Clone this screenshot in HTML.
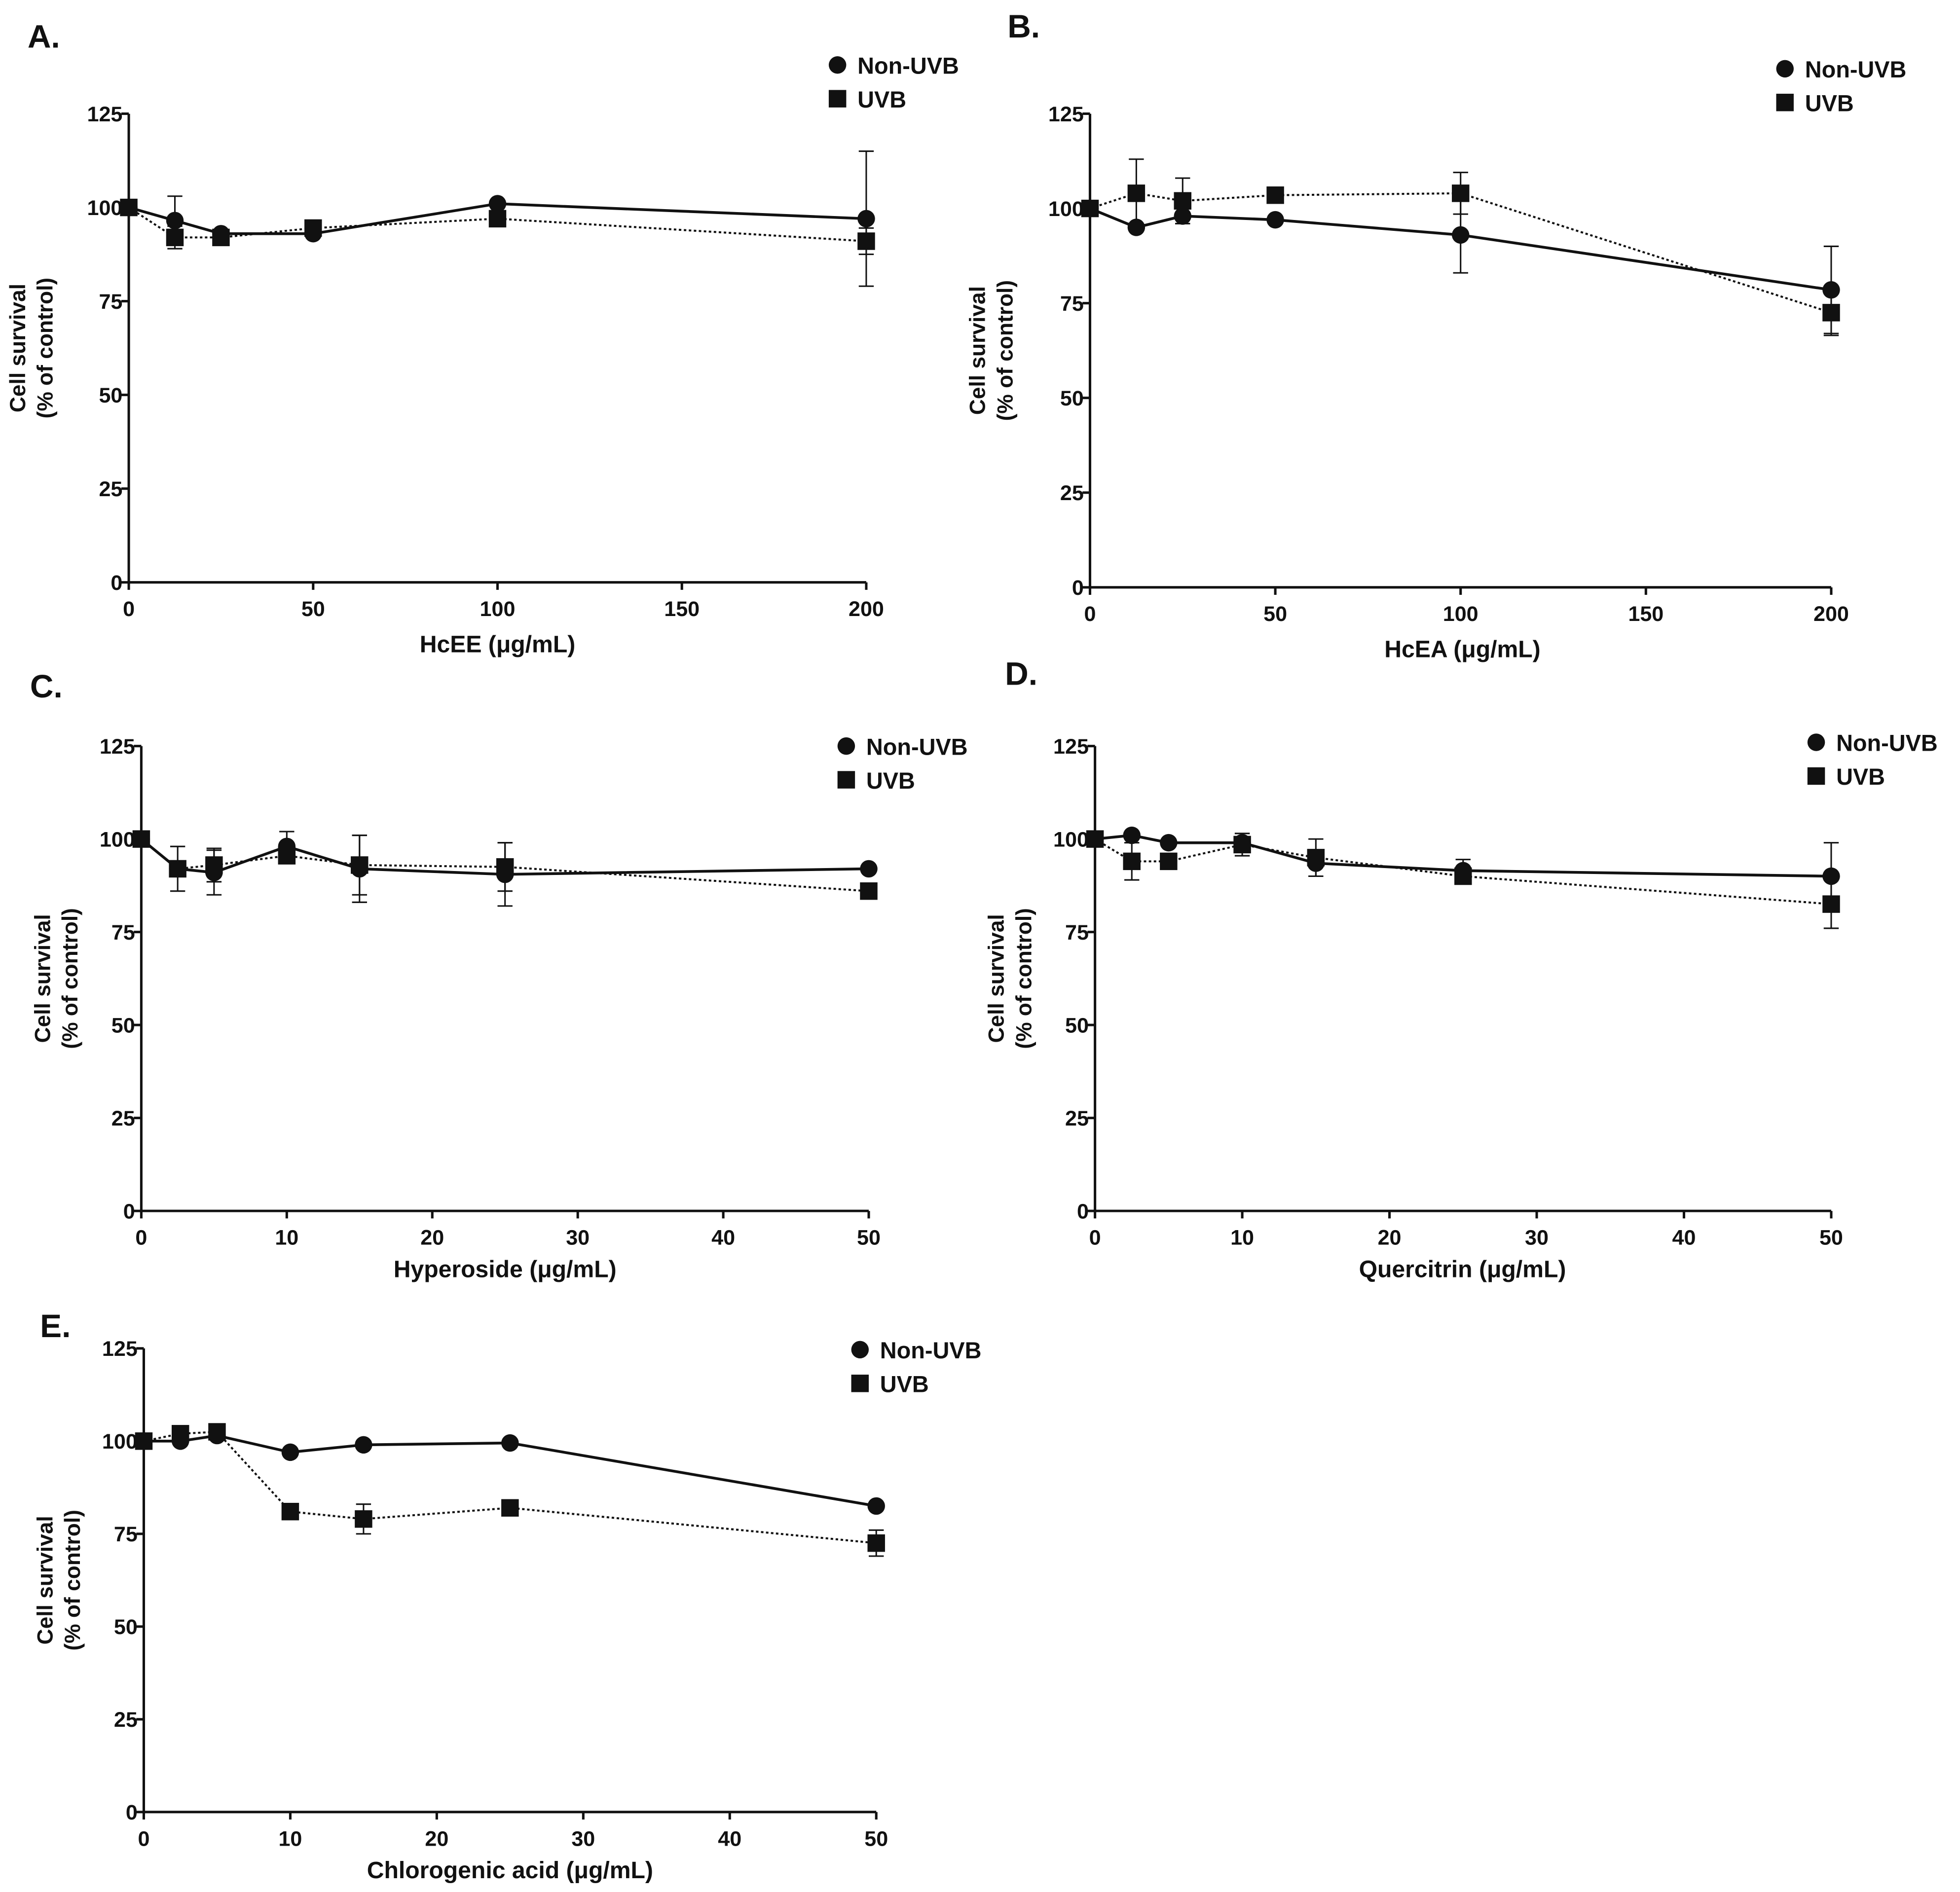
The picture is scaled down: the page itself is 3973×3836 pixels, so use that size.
<!DOCTYPE html>
<html><head><meta charset="utf-8"><style>
html,body{margin:0;padding:0;background:#fff;}
svg{display:block;}
text{font-family:"Liberation Sans Narrow","Liberation Sans",sans-serif;font-weight:bold;fill:#111;}
.yl{font-family:"Liberation Sans",sans-serif;}
</style></head><body>
<svg id="fig" width="3973" height="3836" viewBox="0 0 1568 1514" xmlns="http://www.w3.org/2000/svg"></svg>
<script>
const xA=[0,12.5,25,50,100,200];
const xC=[0,2.5,5,10,15,25,50];
const nonA=[100,96.5,93,93,101,97];
const nonAErr=[0,6.5,1,0,0,18];
const uvbA=[100,92,92,94.5,97,91];
const uvbAErr=[0,3,2,0,0,3.5];
const nonB=[100,95,98,97,93,78.5];
const nonBErr=[0,0,2,0,10,11.5];
const uvbB=[100,104,102,103.5,104,72.5];
const uvbBErr=[0,9,6,0,5.5,6];
const nonCv=[100,92,91,98,92,90.5,92];
const nonCErr=[0,0,6,4,9,8.5,0];
const uvbCv=[100,92,93,95.5,93,92.5,86];
const uvbCErr=[0,6,4.5,0,8,6.5,0];
const nonD=[100,101,99,99,93.5,91.5,90];
const nonDErr=[0,0,0,0,3.5,3,9];
const uvbD=[100,94,94,98.5,95,90,82.5];
const uvbDErr=[0,5,0,3,5,0,6.5];
const nonE=[100,100,101.5,97,99,99.5,82.5];
const nonEErr=[0,0,0,0,0,0,0];
const uvbE=[100,102,102.5,81,79,82,72.5];
const uvbEErr=[0,0,0,0,4,0,3.5];
const yTicks=[0,25,50,75,100,125];
const xTicksA=[0,50,100,150,200];
const xTicksC=[0,10,20,30,40,50];

const svg=document.getElementById('fig');
const NS='http://www.w3.org/2000/svg';
function mk(tag,attrs,parent){const e=document.createElementNS(NS,tag);for(const k in attrs)e.setAttribute(k,attrs[k]);(parent||svg).appendChild(e);return e;}

const panels=[
 {id:'a',L:'A.',lx:22,ly:38,ax:103,y0:466,y1:91,x1:693,xmax:200,xs:xA,xt:xTicksA,non:nonA,ne:nonAErr,uvb:uvbA,ue:uvbAErr,title:'HcEE (μg/mL)',tx:398,ty:522,lgx:670,lgy:52,ylx:20},
 {id:'b',L:'B.',lx:806,ly:30,ax:872,y0:470,y1:91,x1:1465,xmax:200,xs:xA,xt:xTicksA,non:nonB,ne:nonBErr,uvb:uvbB,ue:uvbBErr,title:'HcEA (μg/mL)',tx:1170,ty:526,lgx:1428,lgy:55,ylx:788},
 {id:'c',L:'C.',lx:24,ly:558,ax:113,y0:969,y1:597,x1:695,xmax:50,xs:xC,xt:xTicksC,non:nonCv,ne:nonCErr,uvb:uvbCv,ue:uvbCErr,title:'Hyperoside (μg/mL)',tx:404,ty:1022,lgx:677,lgy:597,ylx:40},
 {id:'d',L:'D.',lx:804,ly:548,ax:876,y0:969,y1:597,x1:1465,xmax:50,xs:xC,xt:xTicksC,non:nonD,ne:nonDErr,uvb:uvbD,ue:uvbDErr,title:'Quercitrin (μg/mL)',tx:1170,ty:1022,lgx:1453,lgy:594,ylx:803},
 {id:'e',L:'E.',lx:32,ly:1070,ax:115,y0:1450,y1:1079,x1:701,xmax:50,xs:xC,xt:xTicksC,non:nonE,ne:nonEErr,uvb:uvbE,ue:uvbEErr,title:'Chlorogenic acid (μg/mL)',tx:408,ty:1503,lgx:688,lgy:1080,ylx:42}
];

panels.forEach(p=>{
 const g=mk('g',{});
 
 
 const X=v=>p.ax+(p.x1-p.ax)*v/p.xmax;
 const Y=v=>p.y0-(p.y0-p.y1)*v/125;
 const lab=mk('text',{x:p.lx,y:p.ly,'font-size':26,class:'yl'},g);lab.textContent=p.L;
 
 
 const ya=mk('line',{x1:p.ax,y1:p.y1,x2:p.ax,y2:p.y0,stroke:'#111','stroke-width':2},g);
 
 
 const xa=mk('line',{x1:p.ax,y1:p.y0,x2:p.x1,y2:p.y0,stroke:'#111','stroke-width':2},g);
 
 
 yTicks.forEach(t=>{
  mk('line',{x1:p.ax-6,y1:Y(t),x2:p.ax,y2:Y(t),stroke:'#111','stroke-width':2},g);
  const tt=mk('text',{x:p.ax-5,y:Y(t)+6,'font-size':17,'text-anchor':'end'},g);tt.textContent=t;
  
  
 });
 p.xt.forEach(t=>{
  mk('line',{x1:X(t),y1:p.y0,x2:X(t),y2:p.y0+6,stroke:'#111','stroke-width':2},g);
  const tt=mk('text',{x:X(t),y:p.y0+27,'font-size':17,'text-anchor':'middle'},g);tt.textContent=t;
  
  
 });
 const ti=mk('text',{x:p.tx,y:p.ty,'font-size':19,'text-anchor':'middle'},g);ti.textContent=p.title;
 
 
 const yc=(p.y0+p.y1)/2;
 const yl=mk('text',{x:0,y:0,'font-size':17.5,'text-anchor':'middle',class:'yl',transform:`translate(${p.ylx},${yc}) rotate(-90)`},g);
 
 
 const t1=mk('tspan',{x:0,dy:0},yl);t1.textContent='Cell survival';
 const t2=mk('tspan',{x:0,dy:22},yl);t2.textContent='(% of control)';
 const ptsU=p.xs.map((x,i)=>X(x)+','+Y(p.uvb[i])).join(' ');
 const lu=mk('polyline',{points:ptsU,fill:'none',stroke:'#111','stroke-width':1.6,'stroke-dasharray':'2,2'},g);
 
 
 const ptsN=p.xs.map((x,i)=>X(x)+','+Y(p.non[i])).join(' ');
 const ln=mk('polyline',{points:ptsN,fill:'none',stroke:'#111','stroke-width':2.2},g);
 
 
 function err(x,v,e){if(!e)return;const cx=X(x);
  mk('line',{x1:cx,y1:Y(v+e),x2:cx,y2:Y(v-e),stroke:'#111','stroke-width':1.2},g);
  mk('line',{x1:cx-6,y1:Y(v+e),x2:cx+6,y2:Y(v+e),stroke:'#111','stroke-width':1.2},g);
  mk('line',{x1:cx-6,y1:Y(v-e),x2:cx+6,y2:Y(v-e),stroke:'#111','stroke-width':1.2},g);}
 p.xs.forEach((x,i)=>{err(x,p.non[i],p.ne[i]);err(x,p.uvb[i],p.ue[i]);});
 p.xs.forEach((x,i)=>{
  const c=mk('circle',{cx:X(x),cy:Y(p.non[i]),r:7,fill:'#111'},g);
  
  
 });
 p.xs.forEach((x,i)=>{
  const r=mk('rect',{x:X(x)-7,y:Y(p.uvb[i])-7,width:14,height:14,fill:'#111'},g);
  
  
 });
 const lg=mk('g',{},g);
 
 
 mk('circle',{cx:p.lgx,cy:p.lgy,r:7,fill:'#111'},lg);
 const l1=mk('text',{x:p.lgx+16,y:p.lgy+7,'font-size':18.5},lg);l1.textContent='Non-UVB';
 
 
 mk('rect',{x:p.lgx-7,y:p.lgy+20,width:14,height:14,fill:'#111'},lg);
 const l2=mk('text',{x:p.lgx+16,y:p.lgy+34,'font-size':18.5},lg);l2.textContent='UVB';
 
 
});
</script>
</body></html>
